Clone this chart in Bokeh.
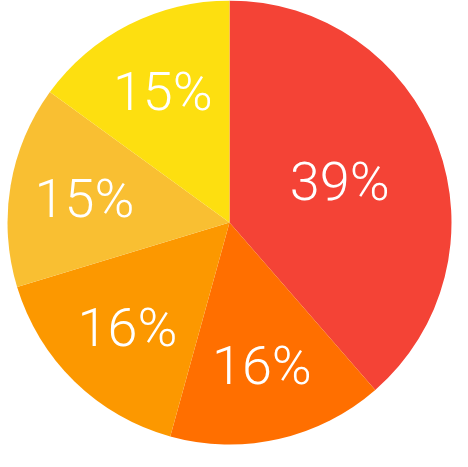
import math
from bokeh.plotting import figure
from bokeh.models import Range1d, ColumnDataSource
from bokeh.core.properties import value
from bokeh.embed import file_html
from bokeh.resources import INLINE

# data
shares = [38.6, 15.7, 16.0, 14.7, 15.0]
colors = ["#F44336", "#FF6F00", "#FC9800", "#F9BF32", "#FDDF10"]

W, H = 452, 451
cx, cy, R = 229, H - 222, 222

total = sum(shares)
starts, ends, lx, ly, labels = [], [], [], [], []
cum = 0.0
for s in shares:
    a0 = math.pi / 2 - 2 * math.pi * cum / total
    cum += s
    a1 = math.pi / 2 - 2 * math.pi * cum / total
    starts.append(a0)
    ends.append(a1)
    mid = (a0 + a1) / 2
    half = (a0 - a1) / 2
    # label at the sector's centroid
    r = 1.03 * 2 * R * math.sin(half) / (3 * half)
    lx.append(cx + r * math.cos(mid))
    ly.append(cy + r * math.sin(mid))
    labels.append(f"{round(s / total * 100)}%")

src = ColumnDataSource(dict(start=starts, end=ends, color=colors, lx=lx, ly=ly, label=labels))

p = figure(width=W, height=H, x_range=Range1d(0, W), y_range=Range1d(0, H),
           output_backend="svg", toolbar_location=None, min_border=0)
p.axis.visible = False
p.grid.visible = False
p.outline_line_color = None
p.background_fill_color = "white"
p.border_fill_color = "white"

p.wedge(x=cx, y=cy, radius=R, start_angle="start", end_angle="end", direction="clock",
        fill_color="color", line_color=None, source=src)
p.text(x="lx", y="ly", text="label", source=src, text_color="white",
       text_font=value("Roboto Light"), text_font_size="54px",
       text_align="center", text_baseline="middle")

open("out.html", "w").write(file_html(p, INLINE))
